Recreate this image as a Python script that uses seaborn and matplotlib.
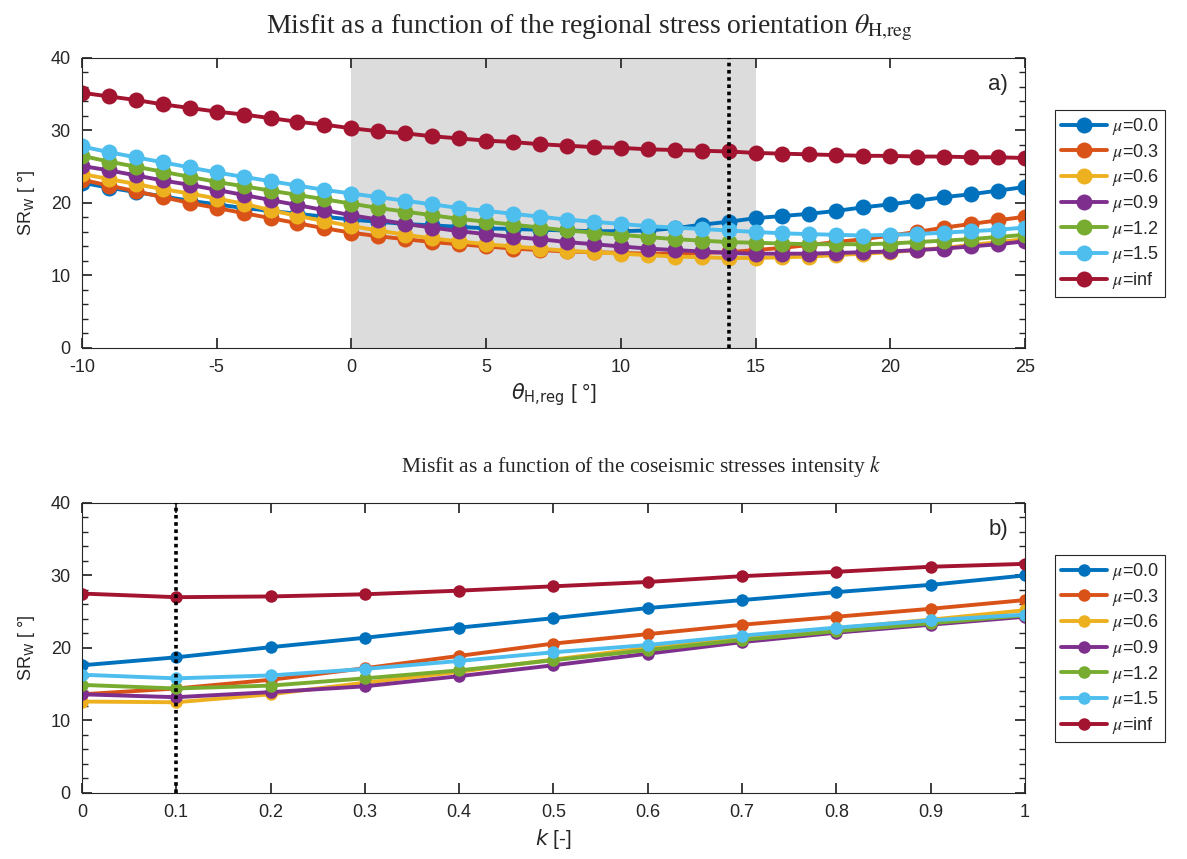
import pandas as pd
import seaborn as sns
import matplotlib.pyplot as plt
from matplotlib.ticker import MultipleLocator


sns.set_theme(style="ticks")
plt.rcParams['font.family'] = ['Liberation Sans', 'DejaVu Sans']
plt.rcParams['axes.unicode_minus'] = False

MU_LABELS = ["0.0", "0.3", "0.6", "0.9", "1.2", "1.5", "inf"]
COLORS = ["#0072BD", "#D95319", "#EDB120", "#7E2F8E", "#77AC30", "#4DBEEE", "#A2142F"]

# panel a): misfit vs regional stress orientation
theta = list(range(-10, 26))
srw_theta_00 = [22.8, 22.1, 21.5, 20.9, 20.3, 19.8, 19.3, 18.9, 18.5, 18.1, 17.7, 17.4, 17.1, 16.9, 16.7, 16.5, 16.4, 16.3,
                16.2, 16.1, 16.1, 16.2, 16.5, 17.0, 17.4, 17.9, 18.2, 18.5, 18.9, 19.4, 19.8, 20.3, 20.8, 21.2, 21.7, 22.2]
srw_theta_03 = [23.2, 22.4, 21.6, 20.8, 20.0, 19.3, 18.6, 17.9, 17.2, 16.5, 15.9, 15.4, 15.0, 14.6, 14.3, 14.0, 13.7, 13.5,
                13.3, 13.2, 13.1, 13.0, 13.0, 13.1, 13.2, 13.5, 13.8, 14.2, 14.6, 15.0, 15.5, 16.0, 16.6, 17.1, 17.6, 18.1]
srw_theta_06 = [24.0, 23.3, 22.6, 21.9, 21.3, 20.6, 19.9, 19.0, 18.2, 17.5, 16.8, 16.2, 15.6, 15.1, 14.7, 14.3, 14.0, 13.7,
                13.4, 13.2, 13.0, 12.8, 12.6, 12.5, 12.4, 12.4, 12.5, 12.6, 12.8, 13.0, 13.2, 13.5, 13.8, 14.2, 14.6, 15.0]
srw_theta_09 = [25.1, 24.5, 23.8, 23.1, 22.5, 21.8, 21.1, 20.4, 19.7, 19.0, 18.3, 17.7, 17.1, 16.6, 16.1, 15.7, 15.3, 15.0,
                14.6, 14.3, 14.0, 13.7, 13.5, 13.3, 13.1, 13.0, 13.0, 13.0, 13.1, 13.2, 13.3, 13.5, 13.7, 14.0, 14.3, 14.7]
srw_theta_12 = [26.5, 25.7, 25.0, 24.3, 23.6, 22.9, 22.3, 21.7, 21.1, 20.5, 19.9, 19.3, 18.8, 18.3, 17.8, 17.4, 17.0, 16.6,
                16.2, 15.9, 15.6, 15.3, 15.0, 14.8, 14.6, 14.5, 14.4, 14.3, 14.3, 14.3, 14.4, 14.6, 14.8, 15.0, 15.3, 15.6]
srw_theta_15 = [27.8, 27.0, 26.3, 25.6, 24.9, 24.2, 23.6, 23.0, 22.4, 21.8, 21.3, 20.8, 20.3, 19.8, 19.3, 18.9, 18.5, 18.1,
                17.7, 17.4, 17.1, 16.8, 16.6, 16.4, 16.2, 16.0, 15.8, 15.7, 15.6, 15.5, 15.6, 15.7, 15.9, 16.1, 16.3, 16.6]
srw_theta_inf = [35.2, 34.7, 34.2, 33.6, 33.1, 32.6, 32.2, 31.7, 31.2, 30.8, 30.3, 29.9, 29.6, 29.2, 28.9, 28.6, 28.4, 28.1,
                 27.9, 27.7, 27.6, 27.4, 27.3, 27.2, 27.1, 26.9, 26.8, 26.7, 26.6, 26.5, 26.5, 26.4, 26.4, 26.3, 26.3, 26.2]

# panel b): misfit vs coseismic stress intensity
k_vals = [0.0, 0.1, 0.2, 0.3, 0.4, 0.5, 0.6, 0.7, 0.8, 0.9, 1.0]
k_ticklabels = ["0", "0.1", "0.2", "0.3", "0.4", "0.5", "0.6", "0.7", "0.8", "0.9", "1"]
srw_k_00 = [17.6, 18.7, 20.1, 21.4, 22.8, 24.1, 25.5, 26.6, 27.7, 28.7, 30.0]
srw_k_03 = [13.6, 14.4, 15.6, 17.2, 18.9, 20.6, 21.9, 23.2, 24.3, 25.4, 26.6]
srw_k_06 = [12.6, 12.5, 13.6, 15.2, 16.7, 18.4, 20.0, 21.4, 22.7, 23.9, 25.2]
srw_k_09 = [13.6, 13.2, 13.9, 14.7, 16.1, 17.6, 19.2, 20.8, 22.1, 23.2, 24.3]
srw_k_12 = [14.9, 14.4, 14.8, 15.8, 16.9, 18.3, 19.7, 21.1, 22.3, 23.4, 24.5]
srw_k_15 = [16.3, 15.8, 16.2, 17.1, 18.2, 19.4, 20.4, 21.7, 22.8, 23.8, 24.6]
srw_k_inf = [27.5, 27.0, 27.1, 27.4, 27.9, 28.5, 29.1, 29.9, 30.5, 31.2, 31.6]

theta_best = 14
theta_band = (0, 15)
k_best = 0.1


def style_axes(ax):
    for sp in ax.spines.values():
        sp.set_visible(True)
        sp.set_color('#262626')
        sp.set_linewidth(0.8)
    ax.tick_params(which='both', direction='in', top=True, right=True, labelsize=13,
                   colors='#262626', pad=8)
    ax.tick_params(which='major', length=7)
    ax.tick_params(which='minor', length=4, top=False, bottom=False)
    ax.set_ylim(0, 40)
    ax.yaxis.set_major_locator(MultipleLocator(10))
    ax.yaxis.set_minor_locator(MultipleLocator(2))
    ax.set_ylabel(r'SR$_\mathrm{W}$ [ °]', fontsize=13, labelpad=10)
    ax.grid(False)


def draw_panel(ax, x, series, ms):
    for vals, lab, col in zip(series, MU_LABELS, COLORS):
        df = pd.DataFrame({'x': x, 'srw': vals})
        sns.lineplot(data=df, x='x', y='srw', ax=ax, color=col, linewidth=2.8, marker='o',
                     markersize=ms, markeredgewidth=0, label=r'$\mu$=' + lab)
    leg = ax.legend(loc='upper left', bbox_to_anchor=(1.032, 0.822), borderaxespad=0, fontsize=13,
                    fancybox=False, edgecolor='#262626', framealpha=1, handlelength=2.5,
                    handletextpad=0.3, labelspacing=0.26, borderpad=0.35)
    leg.get_frame().set_linewidth(0.8)
    for t in leg.get_texts():
        t.set_math_fontfamily('stix')


fig, (ax1, ax2) = plt.subplots(2, 1, figsize=(11.87, 8.59), dpi=100)
fig.subplots_adjust(left=0.069, right=0.8635, top=0.9325, bottom=0.077, hspace=0.535)

# top panel
ax1.axvspan(theta_band[0], theta_band[1], color='#dcdcdc', lw=0, zorder=0)
draw_panel(ax1, theta, [srw_theta_00, srw_theta_03, srw_theta_06, srw_theta_09,
                        srw_theta_12, srw_theta_15, srw_theta_inf], 11.5)
ax1.axvline(theta_best, color='black', linestyle=(0, (1, 1)), linewidth=2.6, zorder=5)
style_axes(ax1)
ax1.set_xlim(-10, 25)
ax1.xaxis.set_major_locator(MultipleLocator(5))
ax1.set_xlabel(r'$\theta_{\mathrm{H{,}reg}}$ [ °]', fontsize=15, labelpad=4)
t1 = ax1.set_title(r'Misfit as a function of the regional stress orientation $\theta_{\mathrm{H{,}reg}}$',
                   fontsize=20, family='Liberation Serif', x=0.538, y=1.0, pad=18)
t1.set_math_fontfamily('stix')
ax1.text(0.982, 0.91, 'a)', transform=ax1.transAxes, ha='right', va='center', fontsize=16)

# bottom panel
draw_panel(ax2, k_vals, [srw_k_00, srw_k_03, srw_k_06, srw_k_09,
                         srw_k_12, srw_k_15, srw_k_inf], 9)
ax2.axvline(k_best, color='black', linestyle=(0, (1, 1)), linewidth=2.6, zorder=5)
style_axes(ax2)
ax2.set_xlim(0, 1)
ax2.set_xticks(k_vals)
ax2.set_xticklabels(k_ticklabels)
ax2.set_xlabel(r'$k$ [-]', fontsize=15, labelpad=4)
t2 = ax2.set_title(r'Misfit as a function of the coseismic stresses intensity $k$',
                   fontsize=15.5, family='Liberation Serif', x=0.593, pad=22)
t2.set_math_fontfamily('stix')
ax2.text(0.982, 0.91, 'b)', transform=ax2.transAxes, ha='right', va='center', fontsize=16)

plt.savefig('out.png', dpi=100)
